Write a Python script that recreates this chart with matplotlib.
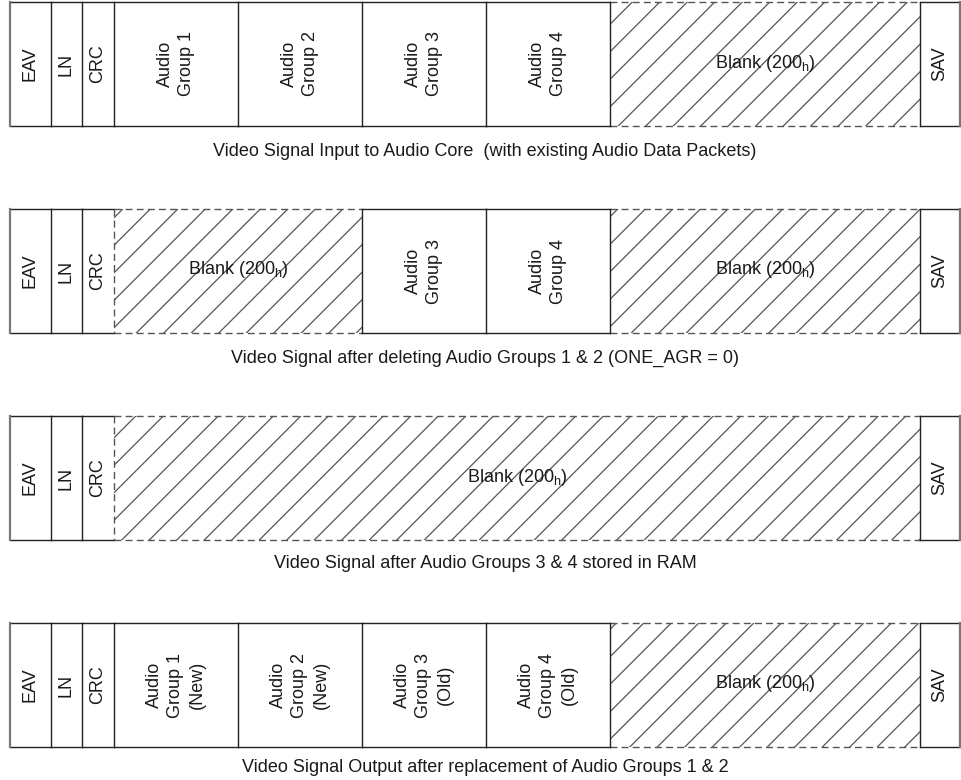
import matplotlib
matplotlib.use("Agg")
import matplotlib.pyplot as plt
from matplotlib.patches import Rectangle

plt.rcParams['font.family'] = ['Liberation Sans', 'DejaVu Sans']
plt.rcParams['mathtext.fontset'] = 'custom'
plt.rcParams['mathtext.rm'] = 'Liberation Sans'
plt.rcParams['mathtext.it'] = 'Liberation Sans:italic'

BLANK = "Blank (200$_\\mathrm{h}$)"

# one list of fields per line of video, with the number of audio group
# slots each field takes (0 = fixed size word)
row1_fields = ["EAV", "LN", "CRC", "Audio\nGroup 1", "Audio\nGroup 2",
               "Audio\nGroup 3", "Audio\nGroup 4", BLANK, "SAV"]
row1_slots = [0, 0, 0, 1, 1, 1, 1, 2.5, 0]

row2_fields = ["EAV", "LN", "CRC", BLANK, "Audio\nGroup 3",
               "Audio\nGroup 4", BLANK, "SAV"]
row2_slots = [0, 0, 0, 2, 1, 1, 2.5, 0]

row3_fields = ["EAV", "LN", "CRC", BLANK, "SAV"]
row3_slots = [0, 0, 0, 6.5, 0]

row4_fields = ["EAV", "LN", "CRC", "Audio\nGroup 1\n(New)",
               "Audio\nGroup 2\n(New)", "Audio\nGroup 3\n(Old)",
               "Audio\nGroup 4\n(Old)", BLANK, "SAV"]
row4_slots = [0, 0, 0, 1, 1, 1, 1, 2.5, 0]

captions = [
    "Video Signal Input to Audio Core  (with existing Audio Data Packets)",
    "Video Signal after deleting Audio Groups 1 & 2 (ONE_AGR = 0)",
    "Video Signal after Audio Groups 3 & 4 stored in RAM",
    "Video Signal Output after replacement of Audio Groups 1 & 2",
]

rows = [(row1_fields, row1_slots), (row2_fields, row2_slots),
        (row3_fields, row3_slots), (row4_fields, row4_slots)]

# layout (pixels)
FIXED_W = {"EAV": 41, "LN": 31, "CRC": 32, "SAV": 40}
SLOT_W = 124
X0 = 10
ROW_TOP = [2, 209, 416, 623]
ROW_H = 124
CAP_GAP = [25, 25, 24, 21]
HATCH_STEP = 27.5
HATCH_PHASE = 1.8
FS = 13

LINE = "#222222"
GREY = "#555555"
TXT = "#1a1a1a"

fig = plt.figure(figsize=(9.62, 7.8), dpi=100)
ax = fig.add_axes([0, 0, 1, 1])
ax.set_xlim(0, 962)
ax.set_ylim(780, 0)
ax.axis("off")


def field_width(name, slots):
    if slots == 0:
        return FIXED_W[name]
    return slots * SLOT_W


def draw_blank(x0, x1, y0, y1):
    clip = Rectangle((x0, y0), x1 - x0, y1 - y0, facecolor="none",
                     edgecolor="none")
    ax.add_patch(clip)
    k0 = int((x0 + y0 - HATCH_PHASE) // HATCH_STEP)
    k1 = int((x1 + y1 - HATCH_PHASE) // HATCH_STEP) + 1
    for k in range(k0, k1 + 1):
        c = k * HATCH_STEP + HATCH_PHASE
        ln, = ax.plot([c - y1, c - y0], [y1, y0], color=GREY, lw=0.9)
        ln.set_clip_path(clip)
    for y in (y0, y1):
        ax.plot([x0, x1], [y, y], color=GREY, lw=1.0, ls=(0, (5, 3)))


for (fields, slots), top, cap, gap in zip(rows, ROW_TOP, captions, CAP_GAP):
    bot = top + ROW_H
    edges = [X0]
    for name, s in zip(fields, slots):
        edges.append(edges[-1] + field_width(name, s))

    for i, (name, s) in enumerate(zip(fields, slots)):
        xa, xb = edges[i], edges[i + 1]
        if name == BLANK:
            draw_blank(xa, xb, top, bot)
            ax.text((xa + xb) / 2, (top + bot) / 2 - 1, name, fontsize=FS,
                    ha="center", va="center", color=TXT)
        else:
            for y in (top, bot):
                ax.plot([xa, xb], [y, y], color=LINE, lw=1.0)
            ax.text((xa + xb) / 2, (top + bot) / 2, name, fontsize=FS,
                    rotation=90, ha="center", va="center",
                    multialignment="center", linespacing=1.35, color=TXT)

    # vertical separators
    for i in range(1, len(fields)):
        left, right = fields[i - 1], fields[i]
        xe = edges[i]
        if left == "CRC" and right == BLANK:
            ax.plot([xe, xe], [top, bot], color=GREY, lw=1.0,
                    ls=(0, (5, 3)))
        else:
            ax.plot([xe, xe], [top, bot], color=LINE, lw=1.0)
    for xe in (edges[0], edges[-1]):
        ax.plot([xe, xe], [top, bot], color="#777777", lw=1.6)

    ax.text((edges[0] + edges[-1]) / 2, bot + gap, cap, fontsize=FS,
            ha="center", va="center", color=TXT)

fig.savefig("out.png", dpi=100)
